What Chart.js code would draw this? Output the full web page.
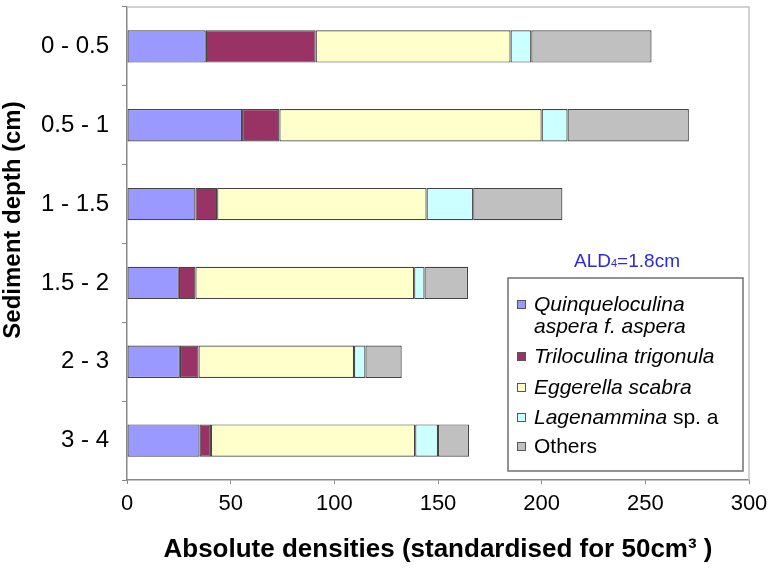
<!DOCTYPE html>
<html>
<head>
<meta charset="utf-8">
<title>Foraminifera absolute densities by sediment depth</title>
<script src="https://cdn.jsdelivr.net/npm/chart.js@4.4.1/dist/chart.umd.min.js"></script>
<style>
  html, body { margin: 0; padding: 0; background: #ffffff; }
  #wrap { position: relative; width: 772px; height: 569px; }
</style>
</head>
<body>
<div id="wrap"><canvas id="chart" width="772" height="569"></canvas></div>
<script>
// Depth intervals (cm), top of core first
const depths = ['0 - 0.5', '0.5 - 1', '1 - 1.5', '1.5 - 2', '2 - 3', '3 - 4'];

// Absolute densities per taxon (individuals per 50 cm3)
const quinqueloculina = [38, 55.5, 33, 25, 25.5, 35];
const triloculina     = [53, 18, 10.5, 8, 9, 5.5];
const eggerella       = [94, 126.5, 101, 105.5, 75, 98.5];
const lagenammina     = [10, 12.5, 22.5, 5, 5.5, 11];
const others          = [58, 58.5, 43, 21, 17.5, 15];

const xTicks = [0, 50, 100, 150, 200, 250, 300];

// Legend entries: each is a list of [text, italic] runs per line
const legendEntries = [
  [[['Quinqueloculina', true]], [['aspera f. aspera', true]]],
  [[['Triloculina trigonula', true]]],
  [[['Eggerella scabra', true]]],
  [[['Lagenammina', true], [' sp. a', false]]],
  [[['Others', false]]]
];

const FONT = '"Liberation Sans", Arial, Helvetica, sans-serif';

const series = [
  { label: 'Quinqueloculina aspera f. aspera', data: quinqueloculina, color: '#9999FF' },
  { label: 'Triloculina trigonula', data: triloculina, color: '#993366' },
  { label: 'Eggerella scabra', data: eggerella, color: '#FFFFCC' },
  { label: 'Lagenammina sp. a', data: lagenammina, color: '#CCFFFF' },
  { label: 'Others', data: others, color: '#C0C0C0' }
];

// Light frame round the plot area
const plotFrame = {
  id: 'plotFrame',
  beforeDatasetsDraw(chart) {
    const { ctx, chartArea: a } = chart;
    ctx.save();
    ctx.strokeStyle = '#c4c4c4';
    ctx.lineWidth = 1.5;
    ctx.beginPath();
    ctx.moveTo(a.left, a.top);
    ctx.lineTo(a.right, a.top);
    ctx.lineTo(a.right, a.bottom);
    ctx.stroke();
    ctx.restore();
  }
};

// Vertical axis title, ALD annotation and the boxed legend
const annotations = {
  id: 'annotations',
  afterDraw(chart) {
    const { ctx } = chart;
    ctx.save();

    // y-axis title
    ctx.save();
    ctx.translate(13, 220);
    ctx.rotate(-Math.PI / 2);
    ctx.font = 'bold 24px ' + FONT;
    ctx.fillStyle = '#000';
    ctx.textAlign = 'center';
    ctx.textBaseline = 'middle';
    ctx.fillText('Sediment depth (cm)', 0, 0);
    ctx.restore();

    // ALD4 = 1.8 cm
    ctx.fillStyle = '#2b2bd9';
    ctx.textBaseline = 'alphabetic';
    ctx.textAlign = 'left';
    const parts = [['ALD', 19, 0], ['4', 11, 0], ['=1.8cm', 19, 0]];
    let total = 0;
    parts.forEach(p => { ctx.font = p[1] + 'px ' + FONT; total += ctx.measureText(p[0]).width; });
    let x = 627 - total / 2;
    const base = 267;
    parts.forEach(p => {
      ctx.font = p[1] + 'px ' + FONT;
      ctx.fillText(p[0], x, base + p[2]);
      x += ctx.measureText(p[0]).width;
    });

    // Legend box
    const box = { left: 508, top: 278, right: 743, bottom: 471 };
    ctx.fillStyle = '#ffffff';
    ctx.fillRect(box.left, box.top, box.right - box.left, box.bottom - box.top);
    ctx.strokeStyle = '#707070';
    ctx.lineWidth = 1.5;
    ctx.strokeRect(box.left, box.top, box.right - box.left, box.bottom - box.top);

    const rowY = [[305, 327], [357], [388], [418], [447]];
    ctx.textBaseline = 'middle';
    legendEntries.forEach((entry, i) => {
      const ds = chart.data.datasets[i];
      const ky = rowY[i][0];
      ctx.fillStyle = ds.backgroundColor;
      ctx.fillRect(517.5, ky - 4.5, 8, 8);
      ctx.strokeStyle = '#555';
      ctx.lineWidth = 1;
      ctx.strokeRect(517.5, ky - 4.5, 8, 8);
      entry.forEach((line, li) => {
        let tx = 534;
        line.forEach(run => {
          ctx.font = (run[1] ? 'italic ' : '') + '21px ' + FONT;
          ctx.fillStyle = '#000';
          ctx.fillText(run[0], tx, rowY[i][li]);
          tx += ctx.measureText(run[0]).width;
        });
      });
    });
    ctx.restore();
  }
};

new Chart(document.getElementById('chart'), {
  type: 'bar',
  data: {
    labels: depths,
    datasets: series.map(s => ({
      label: s.label,
      data: s.data,
      backgroundColor: s.color,
      borderColor: '#444444',
      borderWidth: 1.2,
      borderSkipped: false,
      barPercentage: 0.41,
      categoryPercentage: 1
    }))
  },
  options: {
    indexAxis: 'y',
    responsive: false,
    animation: false,
    devicePixelRatio: 1,
    layout: { padding: { left: 0, top: 7, right: 23, bottom: 0 } },
    plugins: {
      legend: { display: false },
      tooltip: { enabled: false }
    },
    scales: {
      x: {
        stacked: true,
        min: 0,
        max: 300,
        afterBuildTicks(scale) { scale.ticks = xTicks.map(v => ({ value: v })); },
        afterFit(scale) { scale.height = 89; scale.paddingLeft = 0; scale.paddingRight = 0; },
        grid: { display: true, drawOnChartArea: false, drawTicks: true, tickLength: 4, color: '#888' },
        border: { display: true, color: '#888', width: 1.5 },
        ticks: { color: '#000', font: { family: FONT, size: 22 }, padding: 7, maxRotation: 0 },
        title: {
          display: true,
          text: 'Absolute densities (standardised for 50cm³ )',
          color: '#000',
          font: { family: FONT, size: 26, weight: 'bold' },
          padding: { top: 0, bottom: 4 }
        }
      },
      y: {
        stacked: true,
        offset: true,
        afterFit(scale) { scale.width = 127; scale.paddingTop = 0; scale.paddingBottom = 0; },
        grid: { display: true, offset: true, drawOnChartArea: false, drawTicks: true, tickLength: 5, color: '#888' },
        border: { display: true, color: '#888', width: 1.5 },
        ticks: { color: '#000', font: { family: FONT, size: 24 }, padding: 13 }
      }
    }
  },
  plugins: [plotFrame, annotations]
});
</script>
</body>
</html>
